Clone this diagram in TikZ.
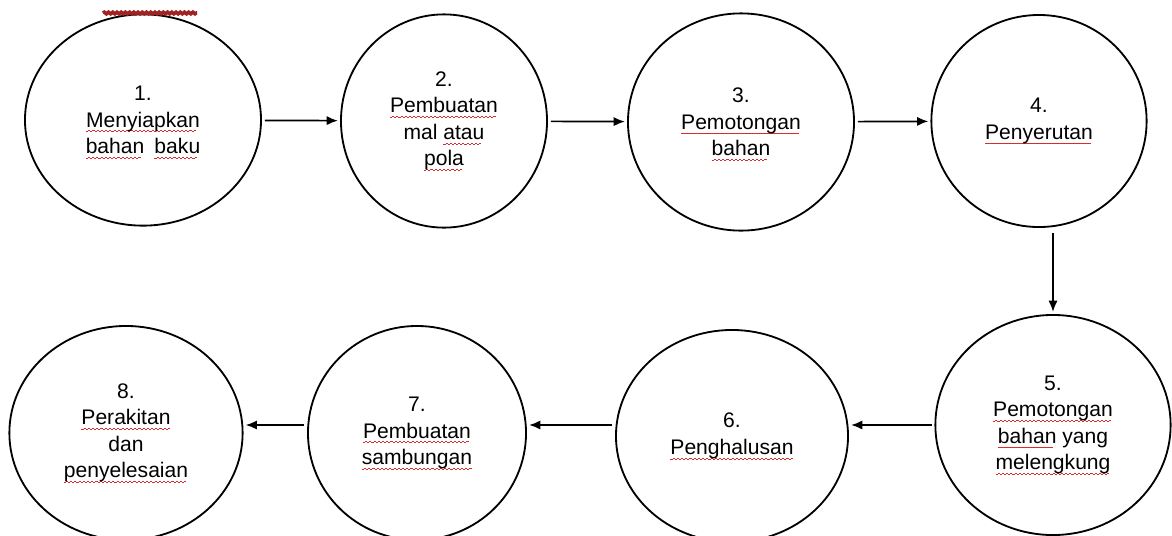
\documentclass[tikz,border=0pt]{standalone}
\usepackage{fontspec}
\setmainfont{Liberation Sans}
\usepackage{tikz}
\definecolor{salah}{RGB}{215,45,45}
% red wavy spelling mark under a word
\newsavebox{\kata}
\newcommand{\ejaan}[1]{\sbox{\kata}{#1}\smash{\rlap{\textcolor{salah}{\lower3.5pt\hbox to\wd\kata{\leaders\hbox to 3pt{\rule{1.5pt}{0.55pt}\raise0.6pt\hbox{\rule{1.5pt}{0.55pt}}}\hfill}}}}\usebox{\kata}}
\tikzset{
    proses/.style={ellipse,draw,line width=1.3pt,inner sep=0pt,minimum width=5.6cm,minimum height=5.35cm,align=center,font=\fontsize{15}{18.8}\selectfont},
    edge/.style={-{Latex[length=8pt,width=6.5pt]},line width=1.2pt,shorten <=2pt,shorten >=1.5pt}
}
\usetikzlibrary{arrows.meta,shapes.geometric,decorations.pathmorphing}

\begin{document}
\begin{tikzpicture}[x=0.025cm,y=-0.025cm]
\useasboundingbox (0,0) rectangle (1172,535);
\begin{scope}[every node/.style={proses}]
\node[minimum width=5.9cm,minimum height=5.28cm] (1) at (143,120) {1.\\\ejaan{Menyiapkan}\\\ejaan{bahan}\hspace{0.2em} \ejaan{baku}};
\node[minimum width=5.15cm,minimum height=5.33cm] (2) at (444,121) {2.\\\ejaan{Pembuatan}\\mal \ejaan{atau}\\\ejaan{pola}};
\node[minimum width=5.65cm,minimum height=5.43cm] (3) at (741,122) {3.\\\ejaan{Pemotongan}\\\ejaan{bahan}};
\node[minimum width=5.38cm,minimum height=5.3cm] (4) at (1039,121) {4.\\\ejaan{Penyerutan}};
\node[minimum width=5.88cm,minimum height=5.5cm] (5) at (1053,425) {5.\\\ejaan{Pemotongan}\\\ejaan{bahan} yang\\\ejaan{melengkung}};
\node[minimum width=5.8cm,minimum height=5.3cm] (6) at (732,436) {6.\\\ejaan{Penghalusan}};
\node[minimum width=5.45cm,minimum height=5.35cm] (7) at (417,433) {7.\\\ejaan{Pembuatan}\\\ejaan{sambungan}};
\node[minimum width=5.83cm,minimum height=5.35cm] (8) at (126,433) {8.\\\ejaan{Perakitan}\\dan\\\ejaan{penyelesaian}};
\end{scope}

\draw[edge] (1) to (2);
\draw[edge] (2) to (3);
\draw[edge] (3) to (4);
\draw[edge,shorten <=3.5pt] (5 |- 4.south) to (5.north);
\draw[edge] (5.west) to (6.east |- 5.west);
\draw[edge] (6.west |- 5.west) to (7.east |- 5.west);
\draw[edge] (7.west |- 5.west) to (8.east |- 5.west);

% cut-off mark at the top edge
\draw[salah!75!black,line width=2.5pt,decorate,decoration={snake,amplitude=0.6pt,segment length=3pt}] (103,13) -- (197,13);
\end{tikzpicture}
\end{document}
